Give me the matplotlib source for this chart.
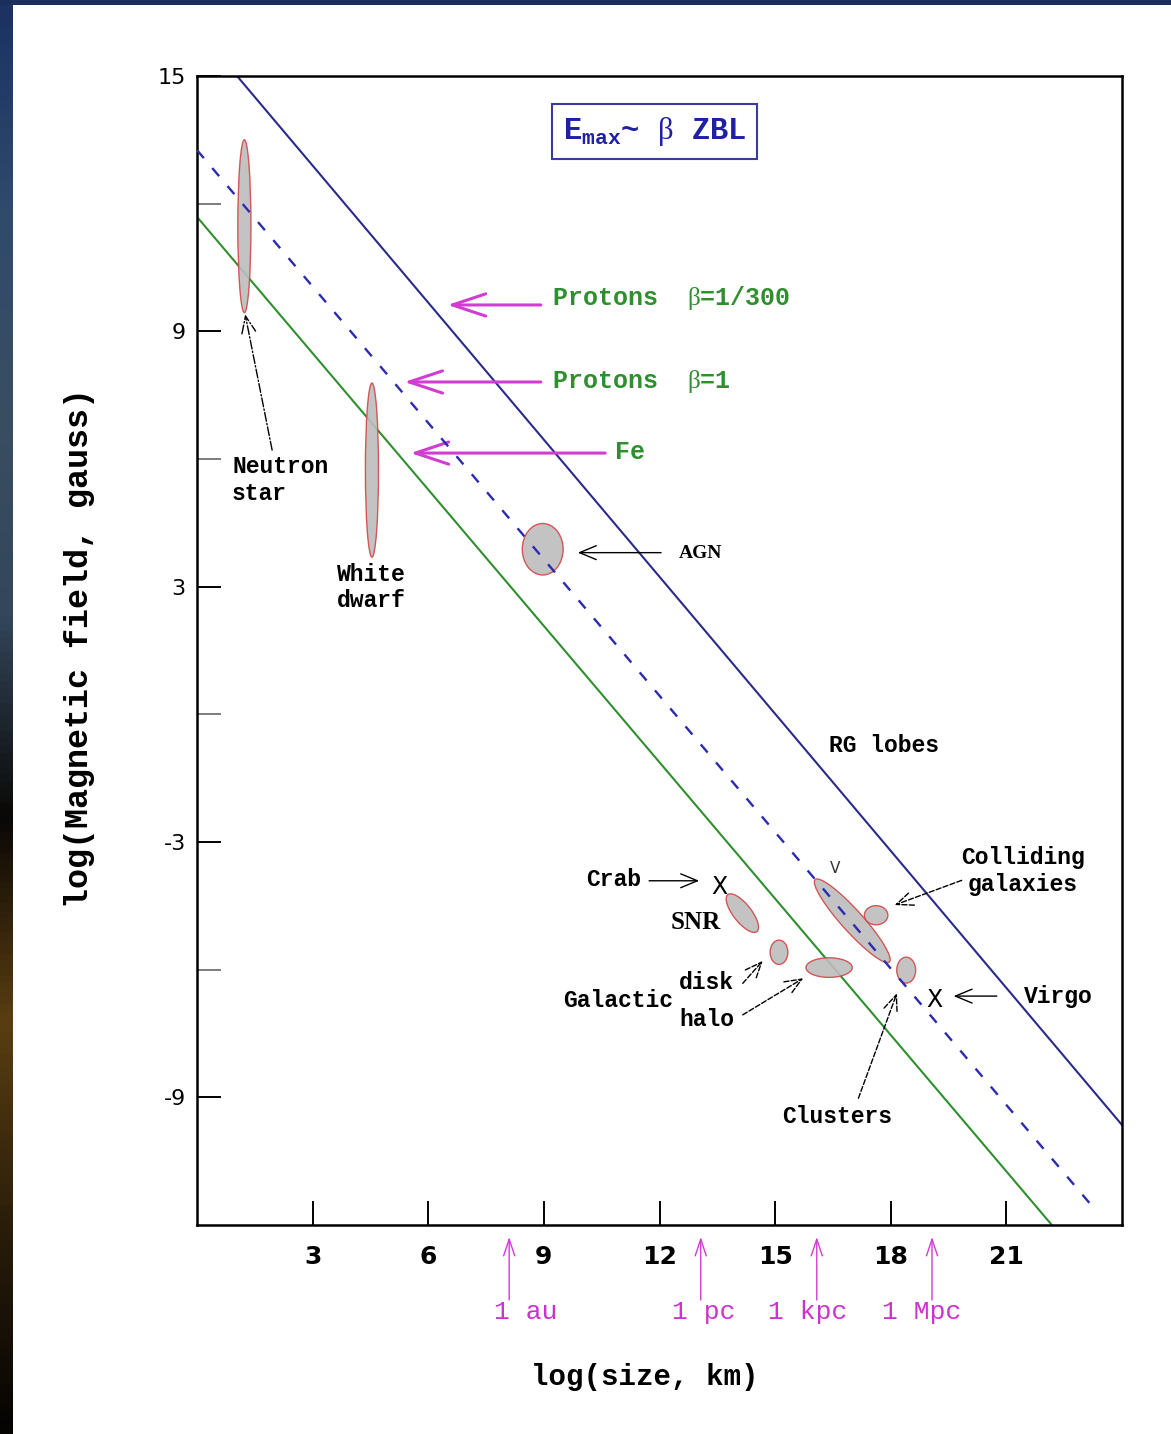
import numpy as np
import matplotlib.pyplot as plt
from matplotlib.patches import Ellipse
from matplotlib.colors import LinearSegmentedColormap

MONO = 'Liberation Mono'
SERIF = 'Liberation Serif'
plt.rcParams['font.family'] = ['DejaVu Sans']
plt.rcParams['mathtext.fontset'] = 'custom'
plt.rcParams['mathtext.bf'] = 'Liberation Mono:bold'
plt.rcParams['mathtext.rm'] = 'Liberation Mono:bold'
plt.rcParams['mathtext.sf'] = 'Liberation Serif'

# --- Hillas lines: log B vs log size ---
p300_x = [1.04, 24.0]
p300_y = [15.0, -9.65]
p1_x = [0.0, 23.35]
p1_y = [13.26, -11.69]
fe_x = [0.0, 22.18]
fe_y = [11.69, -12.0]

# --- source regions (center x, center y, width, height, angle) ---
src_x = [1.23, 4.54, 8.97, 14.15, 15.10, 16.40, 17.00, 17.62, 18.40]
src_y = [11.47, 5.74, 3.88, -4.67, -5.59, -5.95, -4.85, -4.72, -6.01]
src_w = [0.34, 0.34, 1.06, 1.15, 0.46, 1.20, 2.73, 0.61, 0.49]
src_h = [4.06, 4.09, 1.21, 0.45, 0.57, 0.46, 0.53, 0.45, 0.61]
src_ang = [0, 0, 0, -48, 0, 0, -45, 0, 0]

# point sources (Crab, Virgo)
pt_x = [13.56, 19.13]
pt_y = [-4.05, -6.71]

xticks = [3, 6, 9, 12, 15, 18, 21]
yticks = [15, 9, 3, -3, -9]
yticks_minor = [12, 6, 0, -6]

# distance markers under x axis
dist_names = ['1 au', '1 pc', '1 kpc', '1 Mpc']
dist_x = [8.10, 13.07, 16.08, 19.07]
dist_label_x = [8.53, 13.15, 15.85, 18.80]

BLUE = '#2a2a8a'
GREEN = '#2f8f2f'
MAG = '#d23cd2'

fig = plt.figure(figsize=(11.71, 14.34), dpi=100)

# slide background strips (left/top edge)
strip = fig.add_axes([0, 0, 13 / 1171, 1])
cmap = LinearSegmentedColormap.from_list(
    'edge', ['#1b3262', '#2f4a6c', '#3a4e62', '#33465a', '#0a0806',
             '#5a3e12', '#2a1e0a', '#050403'])
strip.imshow(np.linspace(0, 1, 200)[:, None], aspect='auto', cmap=cmap)
strip.axis('off')
top = fig.add_axes([0, 1 - 5 / 1434, 1, 5 / 1434])
top.set_facecolor('#1a2f5c')
top.set_xticks([])
top.set_yticks([])
for s in top.spines.values():
    s.set_visible(False)

ax = fig.add_axes([0.1682, 0.1457, 0.79, 0.8013])
ax.set_xlim(0, 24)
ax.set_ylim(-12, 15)

ax.plot(p300_x, p300_y, color=BLUE, lw=1.5)
ax.plot(fe_x, fe_y, color=GREEN, lw=1.5)

for x, y, w, h, a in zip(src_x, src_y, src_w, src_h, src_ang):
    ax.add_patch(Ellipse((x, y), w, h, angle=a, facecolor='#bdbdbd',
                         edgecolor='#d04848', lw=1.0, alpha=0.9, zorder=3))
# dashed line drawn over the ellipses as in the original
ax.plot(p1_x, p1_y, color='#2b2bb0', lw=1.7, dashes=(4.5, 5.5), zorder=4)

for x, y in zip(pt_x, pt_y):
    ax.text(x, y, 'X', ha='center', va='center', fontsize=17, zorder=5)
ax.text(16.55, -3.62, 'V', ha='center', va='center', fontsize=11, color='#333333')

ax.set_xticks(xticks)
ax.set_xticklabels([str(t) for t in xticks], fontsize=18, fontweight='bold')
ax.set_yticks(yticks)
ax.set_yticklabels([str(t) for t in yticks], fontsize=16)
ax.set_yticks(yticks_minor, minor=True)
ax.tick_params(axis='x', which='both', direction='in', length=17, width=1.4,
               pad=14, top=False)
ax.tick_params(axis='y', which='major', direction='in', length=17, width=1.4,
               pad=8, right=False)
ax.tick_params(axis='y', which='minor', direction='in', length=17, width=1.2,
               color='#666666', right=False)
for s in ax.spines.values():
    s.set_linewidth(1.8)

# axis labels
ax.text(0.484, -0.1323, 'log(size, km)', transform=ax.transAxes, ha='center',
        va='center', fontsize=21, family=MONO, fontweight='bold')
ax.text(-0.1265, 0.502, 'log(Magnetic field, gauss)', transform=ax.transAxes,
        rotation=90, ha='center', va='center', fontsize=24, family=MONO,
        fontweight='bold')

# formula box
ax.text(11.87, 13.7, r'$\mathbf{E_{max}}$~ $\mathsf{\beta}$ ZBL', ha='center',
        va='center', fontsize=22, family=MONO, fontweight='bold', color='#2020a0',
        bbox=dict(boxstyle='square,pad=0.35', fc='white', ec='#3a3aa0', lw=1.5))

# green labels with magenta arrows
green_txt = [r'Protons  $\mathsf{\beta}$=1/300', r'Protons  $\mathsf{\beta}$=1', 'Fe']
green_x = [9.21, 9.21, 10.85]
green_y = [9.78, 7.83, 6.17]
arrow_tail = [8.92, 8.92, 10.59]
arrow_head = [6.50, 5.38, 5.54]
arrow_y = [9.62, 7.81, 6.14]
for t, tx, ty, a0, a1, ay in zip(green_txt, green_x, green_y, arrow_tail,
                                 arrow_head, arrow_y):
    ax.text(tx, ty, t, ha='left', va='center', fontsize=18, family=MONO,
            fontweight='bold', color=GREEN)
    ax.annotate('', xy=(a1, ay), xytext=(a0, ay),
                arrowprops=dict(arrowstyle='->,head_length=1.2,head_width=0.4',
                                color=MAG, lw=2.2, mutation_scale=20,
                                shrinkA=0, shrinkB=0))

lab = dict(family=MONO, fontweight='bold', fontsize=16.6)
ax.text(0.91, 5.51, 'Neutron\nstar', ha='left', va='center', linespacing=1.2, **lab)
ax.text(4.53, 2.98, 'White\ndwarf', ha='center', va='center', linespacing=1.2, **lab)
ax.text(12.51, 3.77, 'AGN', ha='left', va='center', family=SERIF,
        fontweight='bold', fontsize=14)
ax.text(16.41, -0.74, 'RG lobes', ha='left', va='center', **lab)
ax.text(21.43, -3.68, 'Colliding\ngalaxies', ha='center', va='center',
        linespacing=1.2, **lab)
ax.text(10.80, -3.89, 'Crab', ha='center', va='center', **lab)
ax.text(12.95, -4.90, 'SNR', ha='center', va='center', family=SERIF,
        fontweight='bold', fontsize=18)
ax.text(12.51, -6.29, 'disk', ha='left', va='center', **lab)
ax.text(12.51, -7.18, 'halo', ha='left', va='center', **lab)
ax.text(9.49, -6.73, 'Galactic', ha='left', va='center', **lab)
ax.text(16.61, -9.46, 'Clusters', ha='center', va='center', **lab)
ax.text(21.46, -6.62, 'Virgo', ha='left', va='center', **lab)

# black pointer arrows: tail (x, y) -> head (x, y), style
ptr = [
    ((1.95, 6.21), (1.25, 9.40), '-.'),
    ((12.04, 3.80), (9.88, 3.80), '-'),
    ((11.73, -3.91), (13.03, -3.91), '-'),
    ((19.84, -3.90), (18.10, -4.48), '--'),
    ((14.16, -6.32), (14.68, -5.79), '--'),
    ((14.16, -7.06), (15.73, -6.20), '--'),
    ((17.16, -9.02), (18.16, -6.55), '--'),
    ((20.75, -6.62), (19.63, -6.62), '-'),
]
for tail, head, ls in ptr:
    ax.annotate('', xy=head, xytext=tail,
                arrowprops=dict(arrowstyle='->,head_length=0.6,head_width=0.25',
                                color='black', lw=1.0, ls=ls, mutation_scale=20,
                                shrinkA=0, shrinkB=0))

# distance scale arrows below the axis
for name, x, lx in zip(dist_names, dist_x, dist_label_x):
    ax.annotate('', xy=(x, -12.28), xytext=(x, -13.76),
                arrowprops=dict(arrowstyle='->,head_length=0.6,head_width=0.2',
                                color=MAG, lw=1.0, mutation_scale=20,
                                shrinkA=0, shrinkB=0),
                annotation_clip=False)
    ax.text(lx, -14.04, name, ha='center', va='center', fontsize=19,
            family=MONO, color='#cc33cc', clip_on=False)

fig.savefig('out.png', dpi=100)
